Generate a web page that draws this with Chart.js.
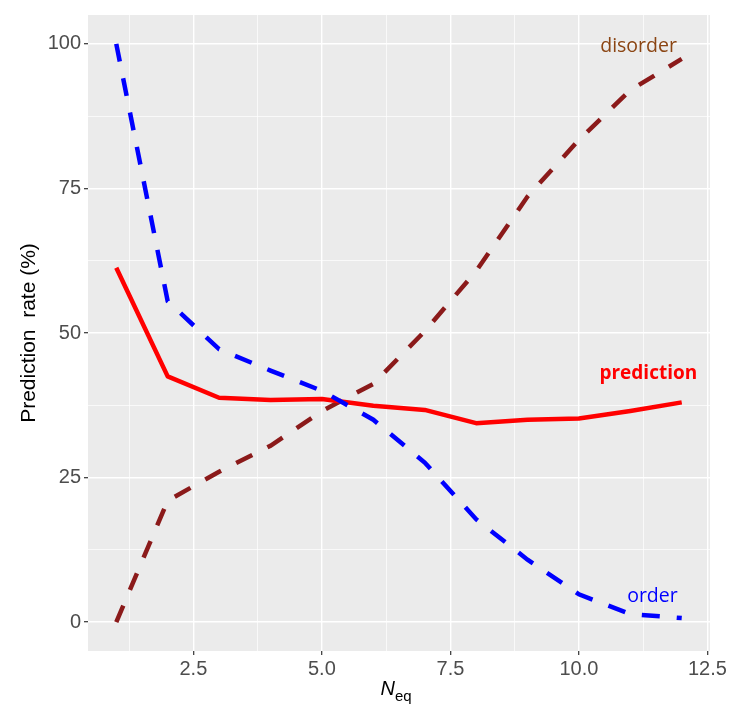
<!DOCTYPE html>
<html>
<head>
<meta charset="utf-8">
<script src="https://cdn.jsdelivr.net/npm/chart.js@4"></script>
<style>
  html, body { margin: 0; padding: 0; background: #fff; }
  #wrap { width: 740px; height: 715px; }
</style>
</head>
<body>
<div id="wrap"><canvas id="rateChart" width="740" height="715"></canvas></div>
<script>
// Values
const nEq = [1, 2, 3, 4, 5, 6, 7, 8, 9, 10, 11, 12];
const orderRate = [100, 55.5, 47.2, 43.5, 40.0, 35.0, 27.6, 17.8, 10.8, 4.8, 1.4, 0.7];
const predictionRate = [61.3, 42.5, 38.8, 38.4, 38.6, 37.4, 36.7, 34.4, 35.0, 35.2, 36.5, 38.0];
const disorderRate = [0, 21.0, 26.0, 30.5, 36.5, 41.2, 50.3, 60.7, 73.6, 83.4, 92.0, 97.4];

const xMajor = [2.5, 5.0, 7.5, 10.0, 12.5];
const xMinor = [1.25, 3.75, 6.25, 8.75, 11.25];
const yMajor = [0, 25, 50, 75, 100];
const yMinor = [12.5, 37.5, 62.5, 87.5];

const seriesLabels = [
    { text: 'disorder', x: 11.16, y: 99.5, color: '#8B4513', bold: false },
    { text: 'prediction', x: 11.35, y: 42.9, color: '#FF0000', bold: true },
    { text: 'order', x: 11.43, y: 4.5, color: '#0000FF', bold: false }
];

function pairs(ys) {
    return nEq.map(function (x, i) { return { x: x, y: ys[i] }; });
}

function isMajor(list, v) {
    return list.some(function (m) { return Math.abs(m - v) < 1e-6; });
}

const ggPanel = {
    id: 'ggPanel',
    beforeDraw: function (chart) {
        const a = chart.chartArea;
        const ctx = chart.ctx;
        ctx.save();
        ctx.fillStyle = '#EBEBEB';
        ctx.fillRect(a.left, a.top, a.right - a.left, a.bottom - a.top);
        ctx.restore();
    },
    afterDraw: function (chart) {
        const ctx = chart.ctx;
        const a = chart.chartArea;
        const xs = chart.scales.x;
        const ys = chart.scales.y;
        ctx.save();

        // labels next to the lines
        ctx.textAlign = 'center';
        ctx.textBaseline = 'middle';
        seriesLabels.forEach(function (l) {
            ctx.font = (l.bold ? 'bold ' : '') + (l.bold ? '19px' : '19.5px') + ' "Open Sans", sans-serif';
            ctx.fillStyle = l.color;
            ctx.fillText(l.text, xs.getPixelForValue(l.x), ys.getPixelForValue(l.y));
        });

        // y axis title
        ctx.fillStyle = '#000';
        ctx.font = '21px "Liberation Sans", Arial, sans-serif';
        ctx.translate(29, (a.top + a.bottom) / 2);
        ctx.rotate(-Math.PI / 2);
        ctx.fillText('Prediction  rate (%)', 0, 0);
        ctx.setTransform(1, 0, 0, 1, 0, 0);

        // x axis title: N_eq
        ctx.textAlign = 'left';
        ctx.textBaseline = 'alphabetic';
        ctx.font = 'italic 20px "Liberation Sans", Arial, sans-serif';
        const nW = ctx.measureText('N').width;
        ctx.font = '15px "Liberation Sans", Arial, sans-serif';
        const sW = ctx.measureText('eq').width;
        const startX = (a.left + a.right) / 2 - (nW + sW) / 2 - 3;
        ctx.font = 'italic 20px "Liberation Sans", Arial, sans-serif';
        ctx.fillText('N', startX, 695);
        ctx.font = '15px "Liberation Sans", Arial, sans-serif';
        ctx.fillText('eq', startX + nW, 701);
        ctx.restore();
    }
};

const tickFont = { family: '"Liberation Sans", Arial, sans-serif', size: 20 };

new Chart(document.getElementById('rateChart'), {
    type: 'line',
    data: {
        datasets: [
            {
                label: 'order',
                data: pairs(orderRate),
                borderColor: '#0000FF',
                borderWidth: 4.5,
                borderDash: [18, 17],
                borderCapStyle: 'butt',
                pointRadius: 0,
                tension: 0,
                fill: false
            },
            {
                label: 'prediction',
                data: pairs(predictionRate),
                borderColor: '#FF0000',
                borderWidth: 4.5,
                borderJoinStyle: 'round',
                pointRadius: 0,
                tension: 0,
                fill: false
            },
            {
                label: 'disorder',
                data: pairs(disorderRate),
                borderColor: '#8B1A1A',
                borderWidth: 4.5,
                borderDash: [18, 17],
                borderCapStyle: 'butt',
                pointRadius: 0,
                tension: 0,
                fill: false
            }
        ]
    },
    options: {
        responsive: false,
        animation: false,
        layout: { padding: { left: 0, top: 13, right: 30, bottom: 0 } },
        plugins: {
            legend: { display: false },
            tooltip: { enabled: false }
        },
        scales: {
            x: {
                type: 'linear',
                min: 0.45,
                max: 12.55,
                afterBuildTicks: function (s) {
                    s.ticks = xMinor.concat(xMajor).sort(function (p, q) { return p - q; })
                        .map(function (v) { return { value: v }; });
                },
                afterFit: function (s) { s.height = 64; },
                border: { display: false },
                grid: {
                    color: '#FFFFFF',
                    lineWidth: function (c) { return isMajor(xMajor, c.tick.value) ? 1.4 : 0.7; },
                    tickColor: function (c) { return isMajor(xMajor, c.tick.value) ? '#333333' : 'rgba(0,0,0,0)'; },
                    tickWidth: 1.2,
                    tickLength: 4
                },
                ticks: {
                    autoSkip: false,
                    maxRotation: 0,
                    padding: 2,
                    color: '#4D4D4D',
                    font: tickFont,
                    callback: function (v) { return isMajor(xMajor, v) ? v.toFixed(1) : ''; }
                }
            },
            y: {
                min: -5,
                max: 105,
                afterBuildTicks: function (s) {
                    s.ticks = yMajor.concat(yMinor).sort(function (p, q) { return p - q; })
                        .map(function (v) { return { value: v }; });
                },
                afterFit: function (s) { s.width = 88; },
                border: { display: false },
                grid: {
                    color: '#FFFFFF',
                    lineWidth: function (c) { return isMajor(yMajor, c.tick.value) ? 1.4 : 0.7; },
                    tickColor: function (c) { return isMajor(yMajor, c.tick.value) ? '#333333' : 'rgba(0,0,0,0)'; },
                    tickWidth: 1.2,
                    tickLength: 4
                },
                ticks: {
                    autoSkip: false,
                    padding: 3,
                    color: '#4D4D4D',
                    font: tickFont,
                    callback: function (v) { return isMajor(yMajor, v) ? String(v) : ''; }
                }
            }
        }
    },
    plugins: [ggPanel]
});
</script>
</body>
</html>
